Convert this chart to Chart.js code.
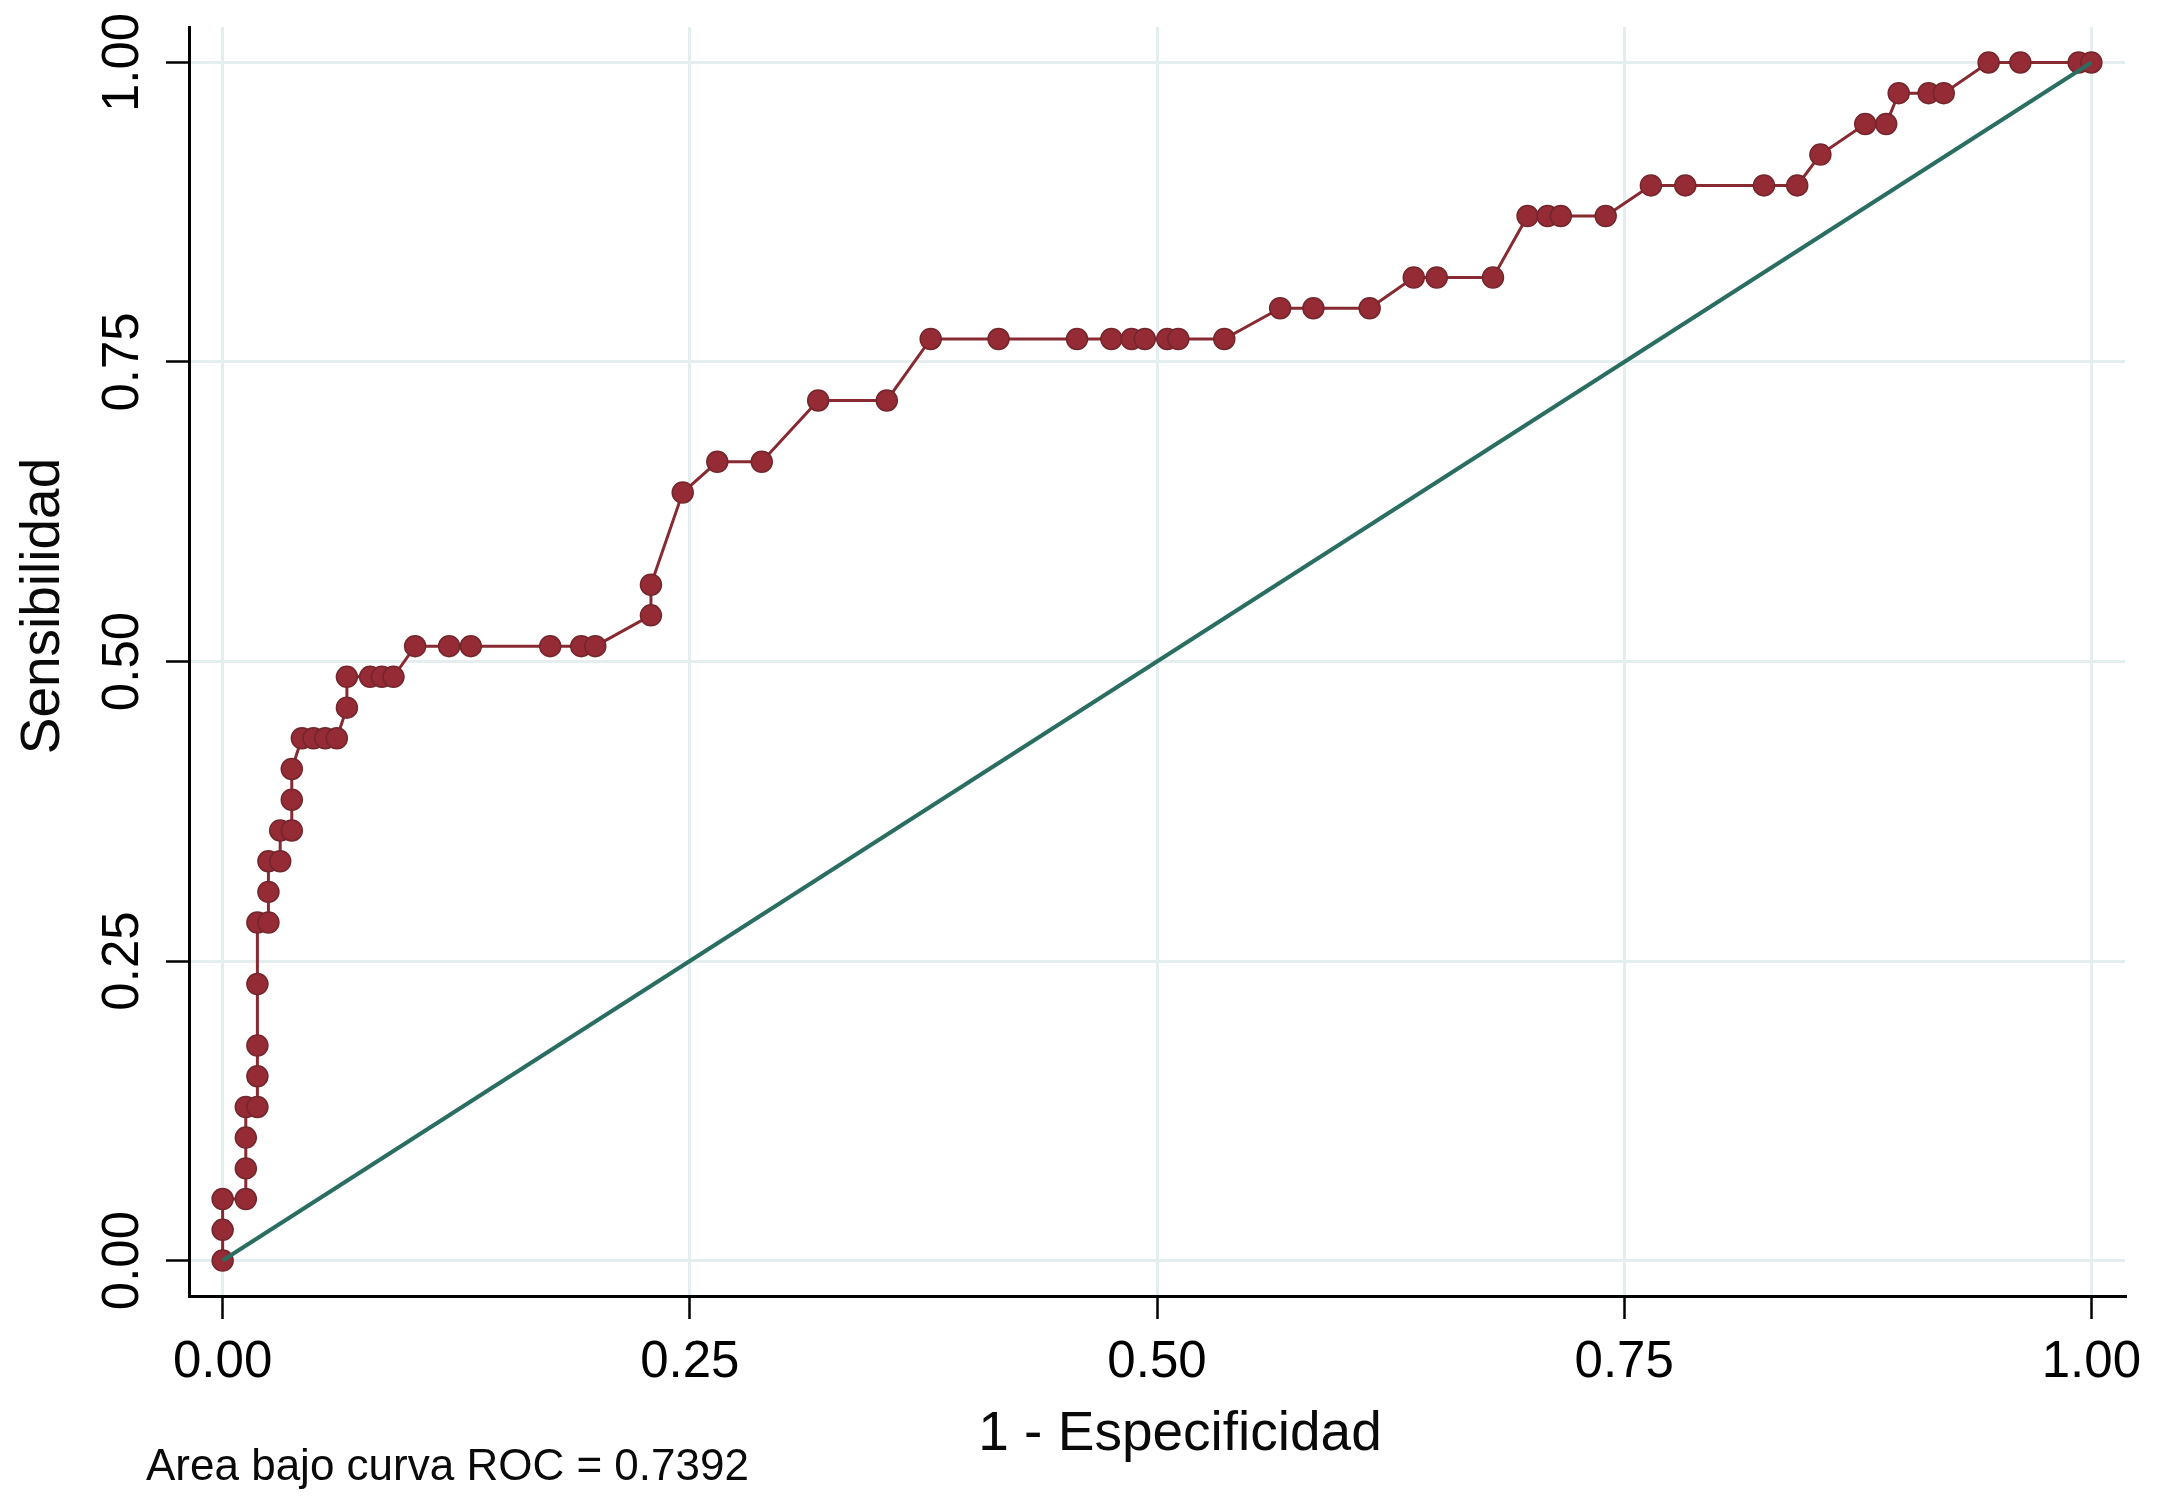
<!DOCTYPE html>
<html>
<head>
<meta charset="utf-8">
<script src="https://cdn.jsdelivr.net/npm/chart.js@4.4.1/dist/chart.umd.min.js"></script>
<style>
  html, body { margin: 0; padding: 0; background: #ffffff; }
  #wrap { width: 2167px; height: 1505px; position: relative; }
  canvas { display: block; }
</style>
</head>
<body>
<div id="wrap"><canvas id="c" width="2167" height="1505"></canvas></div>
<script>
// ---- Data ----
const rocX = [0, 0, 0, 0.0124, 0.0124, 0.0124, 0.0124, 0.0186, 0.0186, 0.0186, 0.0186, 0.0186,
  0.0245, 0.0245, 0.0245, 0.0308, 0.0308, 0.0370, 0.0370, 0.0370, 0.0424, 0.0486, 0.0549, 0.0611,
  0.0665, 0.0665, 0.0789, 0.0852, 0.0914, 0.1030, 0.1212, 0.1328, 0.1753, 0.1919, 0.1994,
  0.2292, 0.2292, 0.2462, 0.2647, 0.2885, 0.3187, 0.3554, 0.3789, 0.4152, 0.4572, 0.4756,
  0.4864, 0.4935, 0.5055, 0.5114, 0.5360, 0.5659, 0.5837, 0.6138, 0.6374, 0.6497, 0.6798,
  0.6983, 0.7090, 0.7161, 0.7401, 0.7643, 0.7827, 0.8248, 0.8426, 0.8550, 0.8790, 0.8902,
  0.8969, 0.9129, 0.9210, 0.9450, 0.9620, 0.9932, 1.0];
const rocY = [0, 0.0256, 0.0513, 0.0513, 0.0769, 0.1026, 0.1282, 0.1282, 0.1538, 0.1795, 0.2308, 0.2821,
  0.2821, 0.3077, 0.3333, 0.3333, 0.3590, 0.3590, 0.3846, 0.4103, 0.4359, 0.4359, 0.4359, 0.4359,
  0.4615, 0.4872, 0.4872, 0.4872, 0.4872, 0.5128, 0.5128, 0.5128, 0.5128, 0.5128, 0.5128,
  0.5385, 0.5641, 0.6410, 0.6667, 0.6667, 0.7179, 0.7179, 0.7692, 0.7692, 0.7692, 0.7692,
  0.7692, 0.7692, 0.7692, 0.7692, 0.7692, 0.7949, 0.7949, 0.7949, 0.8205, 0.8205, 0.8205,
  0.8718, 0.8718, 0.8718, 0.8718, 0.8974, 0.8974, 0.8974, 0.8974, 0.9231, 0.9487, 0.9487,
  0.9744, 0.9744, 0.9744, 1.0, 1.0, 1.0, 1.0];
const refX = [0, 1];
const refY = [0, 1];
const xTicks = [0, 0.25, 0.5, 0.75, 1];
const yTicks = [0, 0.25, 0.5, 0.75, 1];
const xTitle = '1 - Especificidad';
const yTitle = 'Sensibilidad';
const footnote = 'Area bajo curva ROC = 0.7392';

// ---- font detection (narrow face for tick labels if available) ----
const mctx = document.createElement('canvas').getContext('2d');
mctx.font = '60px monospace';
const wMono = mctx.measureText('0.00 abc').width;
mctx.font = '60px "Liberation Sans Narrow", monospace';
const wNarrow = mctx.measureText('0.00 abc').width;
const hasNarrow = Math.abs(wMono - wNarrow) > 1;
const tickFont = hasNarrow
  ? { family: '"Liberation Sans Narrow", "Liberation Sans", Arial, sans-serif', size: 61, lineHeight: 1.2 }
  : { family: '"Liberation Sans", Arial, sans-serif', size: 51, lineHeight: 1.2 };
mctx.font = tickFont.size + 'px ' + tickFont.family;
const tickLabelW = mctx.measureText('0.00').width;

const TICK_LEN = 23;
const yPad = (189 - TICK_LEN - 124) - tickLabelW / 2;
const xPad = (1363 - 1296 - TICK_LEN) - tickFont.size * tickFont.lineHeight / 2;

const textPlugin = {
  id: 'stataText',
  afterDraw(chart) {
    const ctx = chart.ctx;
    ctx.save();
    ctx.fillStyle = '#0a0a0a';
    ctx.font = '55px "Liberation Sans", Arial, sans-serif';
    ctx.textAlign = 'center';
    ctx.textBaseline = 'alphabetic';
    ctx.fillText(xTitle, 1180, 1450);
    ctx.save();
    ctx.translate(59, 606);
    ctx.rotate(-Math.PI / 2);
    ctx.fillText(yTitle, 0, 0);
    ctx.restore();
    ctx.font = '44px "Liberation Sans", Arial, sans-serif';
    ctx.textAlign = 'left';
    ctx.fillText(footnote, 146, 1480);
    ctx.restore();
  }
};

const gridCfg = {
  color: '#e5eeef',
  lineWidth: 3,
  drawTicks: true,
  tickLength: TICK_LEN,
  tickColor: '#000000',
  tickWidth: 2.5
};

new Chart(document.getElementById('c'), {
  type: 'scatter',
  data: {
    datasets: [
      {
        label: 'Referencia',
        data: refX.map((x, i) => ({ x: x, y: refY[i] })),
        showLine: true,
        borderColor: '#2a6e62',
        borderWidth: 4,
        pointRadius: 0,
        order: 1
      },
      {
        label: 'ROC',
        data: rocX.map((x, i) => ({ x: x, y: rocY[i] })),
        showLine: true,
        borderColor: '#882a32',
        borderWidth: 3,
        pointRadius: 10.5,
        pointBackgroundColor: '#952b35',
        pointBorderColor: '#74262d',
        pointBorderWidth: 1.5,
        order: 2
      }
    ]
  },
  options: {
    responsive: false,
    devicePixelRatio: 1,
    animation: false,
    events: [],
    layout: { padding: { left: 0, top: 27, right: 42, bottom: 0 } },
    plugins: { legend: { display: false }, tooltip: { enabled: false }, title: { display: false } },
    scales: {
      x: {
        type: 'linear',
        min: -0.018,
        max: 1.018,
        afterBuildTicks: s => { s.ticks = xTicks.map(v => ({ value: v })); },
        afterFit: s => { s.height = 209; },
        grid: gridCfg,
        border: { display: true, color: '#000000', width: 3 },
        ticks: {
          autoSkip: false,
          maxRotation: 0,
          minRotation: 0,
          padding: xPad,
          color: '#000000',
          font: tickFont,
          callback: v => Number(v).toFixed(2)
        }
      },
      y: {
        type: 'linear',
        min: -0.0296,
        max: 1.0296,
        afterBuildTicks: s => { s.ticks = yTicks.map(v => ({ value: v })); },
        afterFit: s => { s.width = 189; },
        grid: gridCfg,
        border: { display: true, color: '#000000', width: 3 },
        ticks: {
          autoSkip: false,
          minRotation: 90,
          maxRotation: 90,
          crossAlign: 'center',
          padding: yPad,
          color: '#000000',
          font: tickFont,
          callback: v => Number(v).toFixed(2)
        }
      }
    }
  },
  plugins: [textPlugin]
});
</script>
</body>
</html>
